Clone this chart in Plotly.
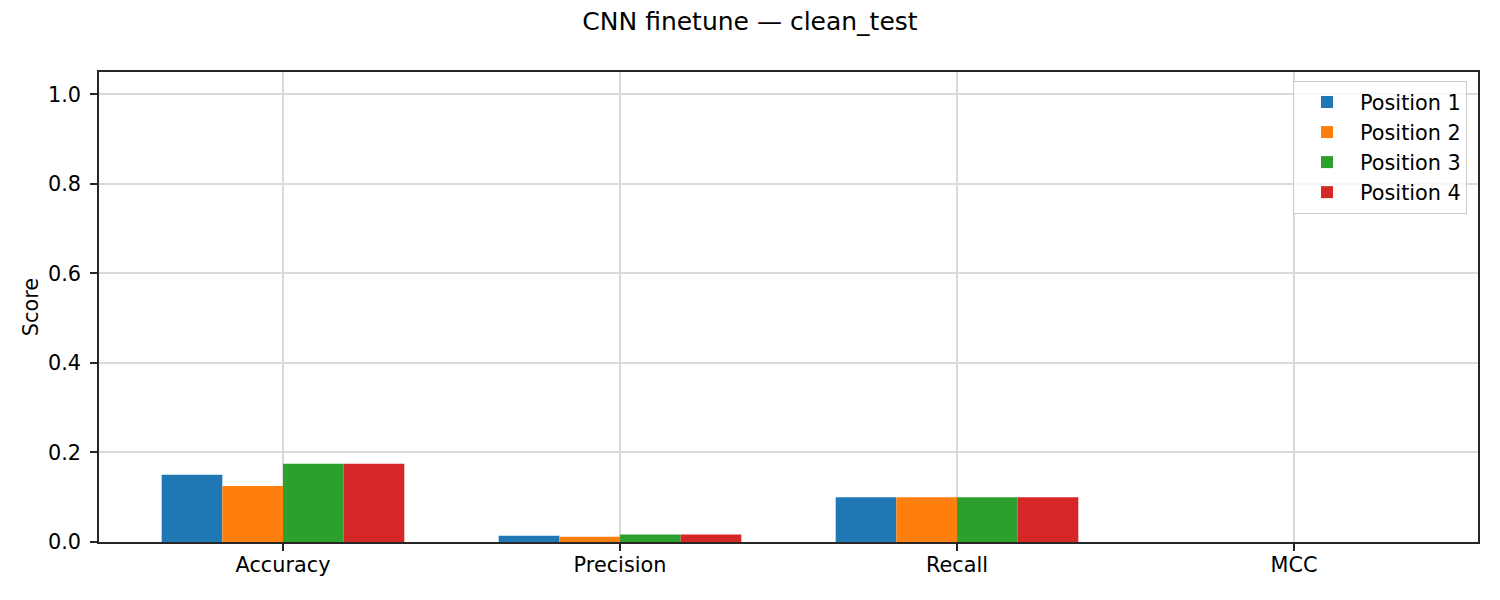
import plotly.graph_objects as go

categories = ["Accuracy", "Precision", "Recall", "MCC"]
series_names = ["Position 1", "Position 2", "Position 3", "Position 4"]
pos1 = [0.150, 0.014, 0.100, 0.0]
pos2 = [0.125, 0.012, 0.100, 0.0]
pos3 = [0.175, 0.017, 0.100, 0.0]
pos4 = [0.175, 0.017, 0.100, 0.0]
colors = ["#1f77b4", "#ff7f0e", "#2ca02c", "#d62728"]
y_ticks = [0.0, 0.2, 0.4, 0.6, 0.8, 1.0]

FONT = "DejaVu Sans"
fig = go.Figure()
for name, vals, c in zip(series_names, [pos1, pos2, pos3, pos4], colors):
    fig.add_trace(go.Bar(x=categories, y=vals, name=name, marker=dict(color=c, line=dict(width=0))))

# page body has an 8px margin; compensate
OFF = 8
W, H = 1500 - OFF, 600 - OFF
ml, mr, mt, mb = 99 - OFF, 22, 72 - OFF, 58
pw = W - ml - mr
ph = H - mt - mb

fig.update_layout(
    width=W, height=H,
    margin=dict(l=ml, r=mr, t=mt, b=mb, autoexpand=False),
    paper_bgcolor="white", plot_bgcolor="white",
    font=dict(family=FONT, size=20.8, color="black"),
    barmode="group", bargap=0.28, bargroupgap=0,
    title=dict(text="CNN finetune — clean_test", x=(750 - OFF) / W, xref="container", xanchor="center",
               y=1 - (21 - OFF) / H, yref="container", yanchor="middle",
               font=dict(family=FONT, size=25, color="black")),
    legend=dict(x=1 - 11 / pw, xanchor="right", y=1 - 9 / ph, yanchor="top",
                bgcolor="rgba(255,255,255,0.8)", bordercolor="#cccccc", borderwidth=1,
                itemwidth=56,
                font=dict(family=FONT, size=20.8, color="black")),
    showlegend=True,
)
fig.update_xaxes(
    type="category", range=[-0.546, 3.546],
    showline=True, linecolor="#262626", linewidth=1.6, mirror=True,
    ticks="outside", ticklen=7, tickwidth=1.6, tickcolor="#262626",
    showgrid=True, gridcolor="#dadada", gridwidth=1.6,
    ticklabelstandoff=-4,
    tickfont=dict(family=FONT, size=20.8, color="black"),
)
fig.update_yaxes(
    range=[0, 1.05], tickvals=y_ticks, tickformat=".1f",
    showline=True, linecolor="#262626", linewidth=1.6, mirror=True,
    ticks="outside", ticklen=7, tickwidth=1.6, tickcolor="#262626",
    showgrid=True, gridcolor="#dadada", gridwidth=1.6, zeroline=False,
    ticklabelstandoff=5,
    tickfont=dict(family=FONT, size=20.8, color="black"),
    title=dict(text="Score", standoff=4, font=dict(family=FONT, size=20.8, color="black")),
)

fig.write_html("out.html")
